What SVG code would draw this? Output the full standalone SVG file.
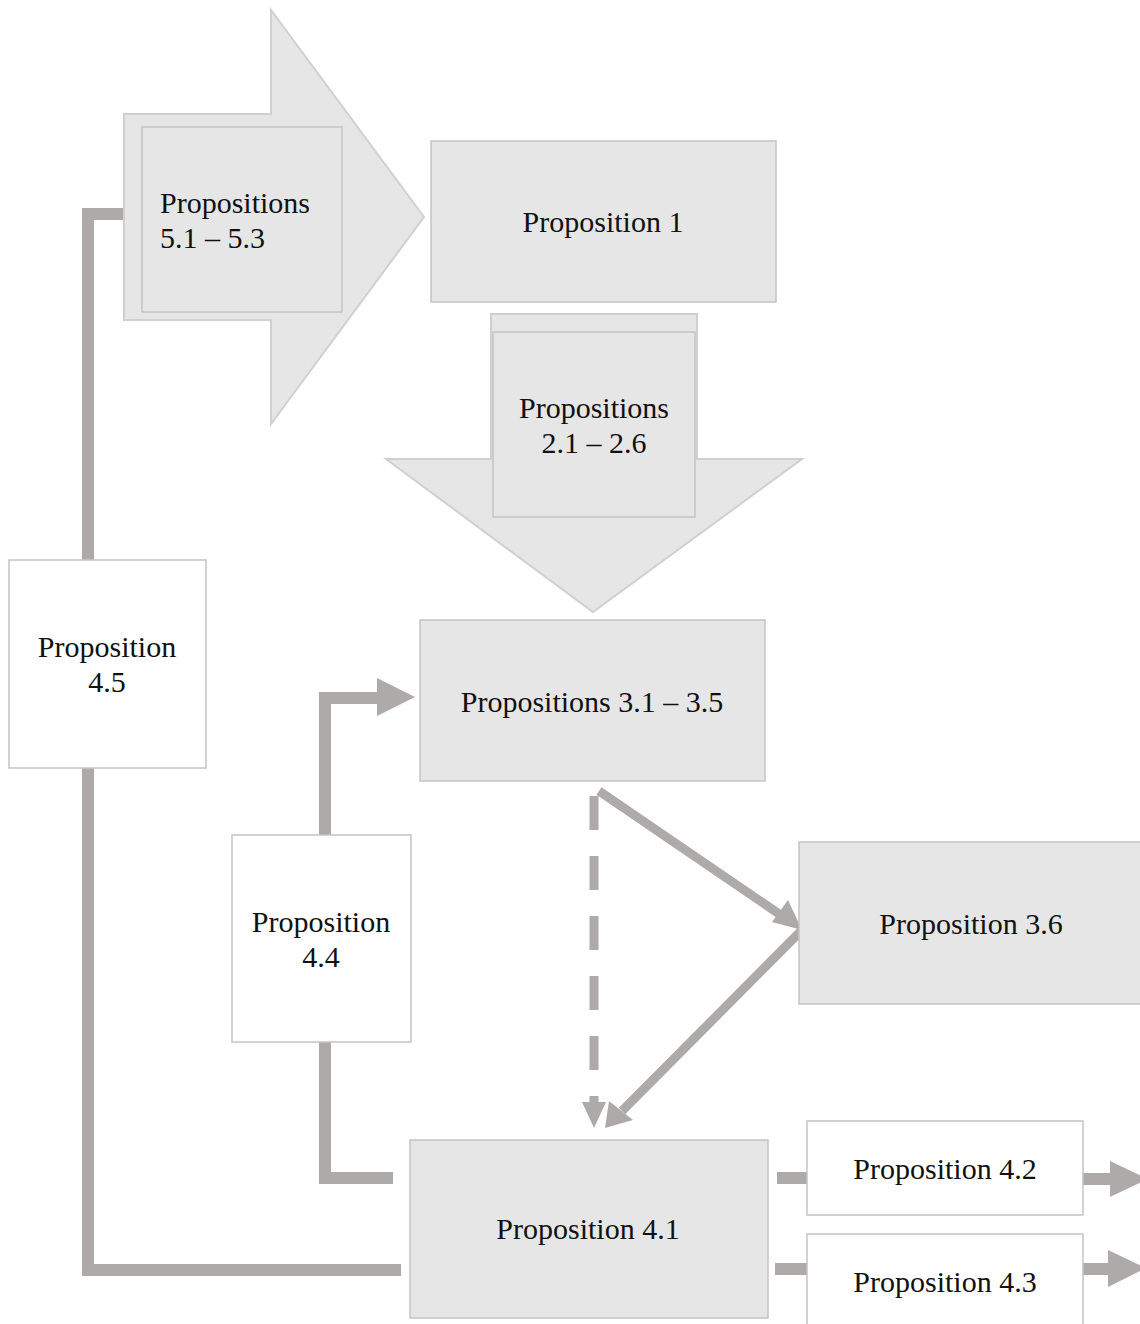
<svg xmlns="http://www.w3.org/2000/svg" width="1140" height="1324" viewBox="0 0 1140 1324">
  <style>
    .shade { fill: #e6e6e6; stroke: #c4c4c4; stroke-width: 1.5; }
    .plain { fill: #ffffff; stroke: #c4c4c4; stroke-width: 1.5; }
    .big { fill: #e6e6e6; stroke: #d0d0d0; stroke-width: 2; }
    .lbl { font-family: "Liberation Serif", "Times New Roman", serif; font-size: 30px; fill: #111111; text-anchor: middle; }
    .lbl-l { font-family: "Liberation Serif", "Times New Roman", serif; font-size: 30px; fill: #111111; }
    .wire { fill: none; stroke: #adaaa9; stroke-width: 12; stroke-linejoin: miter; stroke-linecap: butt; }
    .thin { fill: none; stroke: #adaaa9; stroke-width: 9; stroke-linecap: butt; }
    .head { fill: #adaaa9; }
  </style>
  <rect width="1140" height="1324" fill="#ffffff"/>

  <!-- connectors -->
  <g id="connectors">
    <!-- 4.5 up to 5.1-5.3 -->
    <polyline class="wire" points="88,560 88,214 124,214"/>
    <!-- 4.5 down to 4.1 -->
    <polyline class="wire" points="88,768 88,1270 401,1270"/>
    <!-- 4.4 up to 3.1-3.5 -->
    <polyline class="wire" points="325,835 325,698 378,698"/>
    <polygon class="head" points="377,678 415,697 377,716"/>
    <!-- 4.4 down to 4.1 -->
    <polyline class="wire" points="325,1042 325,1178 393,1178"/>
    <!-- 3.1-3.5 to 3.6 -->
    <line class="thin" x1="599" y1="791" x2="785" y2="918"/>
    <polygon class="head" points="802,930 772,922 788,900"/>
    <!-- 3.6 to 4.1 -->
    <line class="thin" x1="802" y1="930" x2="622" y2="1111"/>
    <polygon class="head" points="605,1128 609,1101 633,1120"/>
    <!-- dashed 3.1-3.5 to 4.1 -->
    <line class="thin" x1="594" y1="796" x2="594" y2="1104" stroke-dasharray="34 26"/>
    <polygon class="head" points="582,1102 606,1102 594,1128"/>
    <!-- 4.1 to 4.2 / 4.3 and onward -->
    <line class="wire" x1="777" y1="1178" x2="807" y2="1178"/>
    <line class="wire" x1="1083" y1="1179" x2="1111" y2="1179"/>
    <polygon class="head" points="1110,1161 1148,1179 1110,1197"/>
    <line class="wire" x1="775" y1="1269" x2="807" y2="1269"/>
    <line class="wire" x1="1083" y1="1269" x2="1109" y2="1269"/>
    <polygon class="head" points="1108,1250 1146,1268 1108,1287"/>
  </g>

  <!-- Propositions 5.1 – 5.3 (block arrow to the right) -->
  <g id="node-5">
    <polygon class="big" points="124,114 271,114 271,10 424,217 271,424 271,320 124,320"/>
    <rect class="shade" x="142" y="127" width="200" height="185"/>
    <text class="lbl-l" x="160" y="213">Propositions</text>
    <text class="lbl-l" x="160" y="248">5.1 – 5.3</text>
  </g>

  <!-- Proposition 1 -->
  <g id="node-1">
    <rect class="shade" x="431" y="141" width="345" height="161"/>
    <text class="lbl" x="603" y="232">Proposition 1</text>
  </g>

  <!-- Propositions 2.1 – 2.6 (block arrow downward) -->
  <g id="node-2">
    <polygon class="big" points="491,314 697,314 697,459 802,459 593,612 386,459 491,459"/>
    <rect class="shade" x="493" y="332" width="202" height="185"/>
    <text class="lbl" x="594" y="418">Propositions</text>
    <text class="lbl" x="594" y="453">2.1 – 2.6</text>
  </g>

  <!-- Propositions 3.1 – 3.5 -->
  <g id="node-3">
    <rect class="shade" x="420" y="620" width="345" height="161"/>
    <text class="lbl" x="592" y="712">Propositions 3.1 – 3.5</text>
  </g>

  <!-- Proposition 3.6 -->
  <g id="node-3-6">
    <rect class="shade" x="799" y="842" width="345" height="162"/>
    <text class="lbl" x="971" y="934">Proposition 3.6</text>
  </g>

  <!-- Proposition 4.5 -->
  <g id="node-4-5">
    <rect class="plain" x="9" y="560" width="197" height="208"/>
    <text class="lbl" x="107" y="657">Proposition</text>
    <text class="lbl" x="107" y="692">4.5</text>
  </g>

  <!-- Proposition 4.4 -->
  <g id="node-4-4">
    <rect class="plain" x="232" y="835" width="179" height="207"/>
    <text class="lbl" x="321" y="932">Proposition</text>
    <text class="lbl" x="321" y="967">4.4</text>
  </g>

  <!-- Proposition 4.1 -->
  <g id="node-4-1">
    <rect class="shade" x="410" y="1140" width="358" height="178"/>
    <text class="lbl" x="588" y="1239">Proposition 4.1</text>
  </g>

  <!-- Proposition 4.2 -->
  <g id="node-4-2">
    <rect class="plain" x="807" y="1121" width="276" height="94"/>
    <text class="lbl" x="945" y="1179">Proposition 4.2</text>
  </g>

  <!-- Proposition 4.3 -->
  <g id="node-4-3">
    <rect class="plain" x="807" y="1234" width="276" height="100"/>
    <text class="lbl" x="945" y="1292">Proposition 4.3</text>
  </g>
</svg>
